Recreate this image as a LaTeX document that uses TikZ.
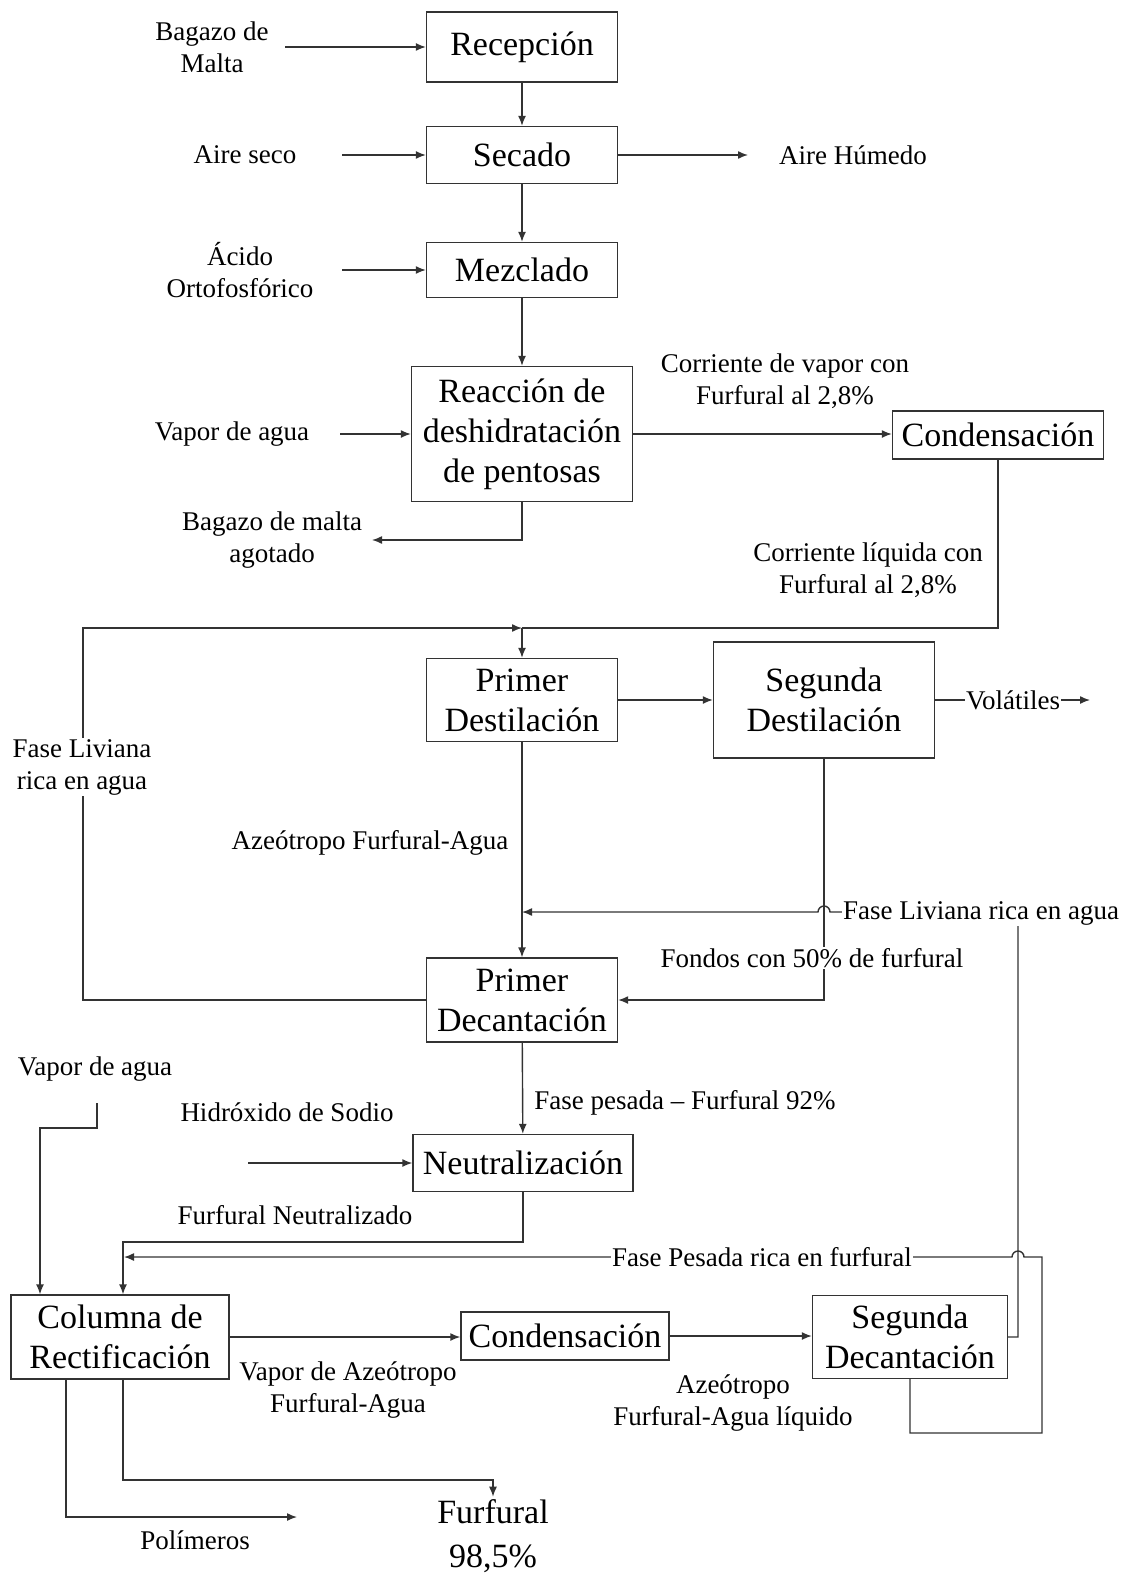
\documentclass[tikz,border=0pt]{standalone}
\usepackage{fontspec}
\setmainfont{Liberation Serif}
\usetikzlibrary{arrows.meta}

\begin{document}
\begin{tikzpicture}[
    x=0.5pt, y=-0.5pt,
    caja/.style  ={draw=black!80, line width=0.7pt, align=center, inner sep=1pt,
                   font=\fontsize{17}{20}\selectfont},
    etiq/.style  ={align=center, inner sep=1pt, font=\fontsize{13.5}{16}\selectfont},
    tapa/.style  ={etiq, fill=white, inner sep=0.5pt},
    fl/.style    ={-{Latex[length=5pt,width=4pt]}, draw=black!80, line width=0.7pt},
    ln/.style    ={draw=black!80, line width=0.7pt}
  ]
  \useasboundingbox (0,0) rectangle (1134,1573);

  % --- equipos del proceso ------------------------------------------------
  \node[caja, minimum width=95.5pt,  minimum height=35pt]   (rec)  at (522,47)   {Recepción};
  \node[caja, minimum width=95.5pt,  minimum height=28.5pt] (sec)  at (522,155)  {Secado};
  \node[caja, minimum width=95.5pt,  minimum height=27.5pt] (mez)  at (522,270)  {Mezclado};
  \node[caja, minimum width=110.5pt, minimum height=67.5pt] (rea)  at (522,434)  {Reacción de\\deshidratación\\de pentosas};
  \node[caja, minimum width=105.5pt, minimum height=24pt]   (con1) at (998,435)  {Condensación};
  \node[caja, minimum width=95.5pt,  minimum height=41.5pt] (pdes) at (522,700)  {Primer\\Destilación};
  \node[caja, minimum width=110.5pt, minimum height=58pt]   (sdes) at (824,700)  {Segunda\\Destilación};
  \node[caja, minimum width=95.5pt,  minimum height=42pt]   (pdec) at (522,1000) {Primer\\Decantación};
  \node[caja, minimum width=110pt,   minimum height=28.5pt] (neu)  at (523,1163) {Neutralización};
  \node[caja, minimum width=109pt,   minimum height=42pt]   (col)  at (120,1337) {Columna de\\Rectificación};
  \node[caja, minimum width=104pt,   minimum height=24pt]   (con2) at (565,1336) {Condensación};
  \node[caja, minimum width=97.5pt,  minimum height=41.5pt] (sdec) at (910,1337) {Segunda\\Decantación};
  \node[caja, draw=none, font=\fontsize{17}{22}\selectfont] (fur) at (493,1536) {Furfural\\98,5\%};

  % --- extremos libres y uniones -------------------------------------------
  \coordinate (iBag)  at (285,47);
  \coordinate (iAir)  at (342,155);
  \coordinate (iAci)  at (342,270);
  \coordinate (iVap)  at (340,434);
  \coordinate (iHid)  at (248,1163);
  \coordinate (iVap2) at (97,1103);
  \coordinate (oHum)  at (748,155);
  \coordinate (oAgo)  at (372,540);
  \coordinate (oVol)  at (1090,700);
  \coordinate (oPol)  at (297,1517);
  \coordinate (j1)    at (522,628);
  \coordinate (j2)    at (522,912);
  \coordinate (j3)    at (124,1257);

  % --- corrientes principales ----------------------------------------------
  \draw[fl] (rec) -- (sec);
  \draw[fl] (sec) -- (mez);
  \draw[fl] (mez) -- (rea);
  \foreach \a/\b in {iBag/rec, iAir/sec, iAci/mez, iVap/rea, iHid/neu}
    \draw[fl] (\a) -- (\b.west);
  \draw[fl] (sec.east) -- (oHum);
  \draw[fl] (rea.south) |- (oAgo);
  \draw[fl] (rea.east) -- (rea.east -| con1.west);
  \draw[ln] (con1.south) |- (j1);
  \draw[fl] (pdec.west) -- (83,1000) -- (83,628) -- (j1);
  \draw[fl] (j1) -- (pdes.north);
  \draw[fl] (pdes) -- (sdes);
  \draw[fl] (sdes.east) -- (oVol);
  \draw[fl] (pdes) -- (pdec);
  \draw[fl] (sdes.south) |- (pdec.east);
  \draw[fl] (sdec.east) -- (1018,1337) -- (1018,912) -- (830,912)
    arc[start angle=0, end angle=180, radius=3pt] -- (j2);
  \draw[fl] (pdec) -- (neu);

  % --- rectificación --------------------------------------------------------
  \draw[fl] (iVap2) -- (97,1128) -| ([xshift=-40pt]col.north);
  \draw[fl] (neu.south) -- (523,1242) -| ([xshift=1.5pt]col.north);
  \draw[fl] (col.east) -- (col.east -| con2.west);
  \draw[fl] (con2.east) -- (con2.east -| sdec.west);
  \draw[fl] (sdec.south) -- (910,1433) -- (1042,1433) -- (1042,1257) -- (1024,1257)
    arc[start angle=0, end angle=180, radius=3pt] -- (j3);
  \draw[fl] ([xshift=1.5pt]col.south) -- (123,1480) -| (fur.north);
  \draw[fl] ([xshift=-27pt]col.south) -- (66,1517) -- (oPol);

  % --- rótulos ----------------------------------------------------------------
  \node[etiq] (lBag)  at (212,47)   {Bagazo de\\Malta};
  \node[etiq] (lAir)  at (245,155)  {Aire seco};
  \node[etiq] (lAci)  at (240,270)  {Ácido\\Ortofosfórico};
  \node[etiq] (lHum)  at (853,155)  {Aire Húmedo};
  \node[etiq] (lVap)  at (232,434)  {Vapor de agua};
  \node[etiq] (lAgo)  at (272,540)  {Bagazo de malta\\agotado};
  \node[etiq] (lCva)  at (785,381)  {Corriente de vapor con\\Furfural al 2,8\%};
  \node[etiq] (lCli)  at (868,570)  {Corriente líquida con\\Furfural al 2,8\%};
  \node[tapa] (lFl1)  at (82,767)   {Fase Liviana\\rica en agua};
  \node[tapa] (lVol)  at (1013,700) {Volátiles};
  \node[etiq] (lAzeo) at (370,843)  {Azeótropo Furfural-Agua};
  \node[tapa] (lFl2)  at (981,913)  {Fase Liviana rica en agua};
  \node[tapa] (lFon)  at (812,958)  {Fondos con 50\% de furfural};
  \node[etiq] (lPes)  at (685,1103) {Fase pesada -- Furfural 92\%};
  \node[etiq] (lHid)  at (287,1112) {Hidróxido de Sodio};
  \node[etiq] (lVap2) at (95,1069)  {Vapor de agua};
  \node[etiq] (lNeu)  at (295,1215) {Furfural Neutralizado};
  \node[tapa] (lFp)   at (762,1257) {Fase Pesada rica en furfural};
  \node[etiq] (lVaz)  at (348,1390) {Vapor de Azeótropo\\Furfural-Agua};
  \node[etiq] (lAzl)  at (733,1403) {Azeótropo\\Furfural-Agua líquido};
  \node[etiq] (lPol)  at (195,1540) {Polímeros};

\end{tikzpicture}
\end{document}
